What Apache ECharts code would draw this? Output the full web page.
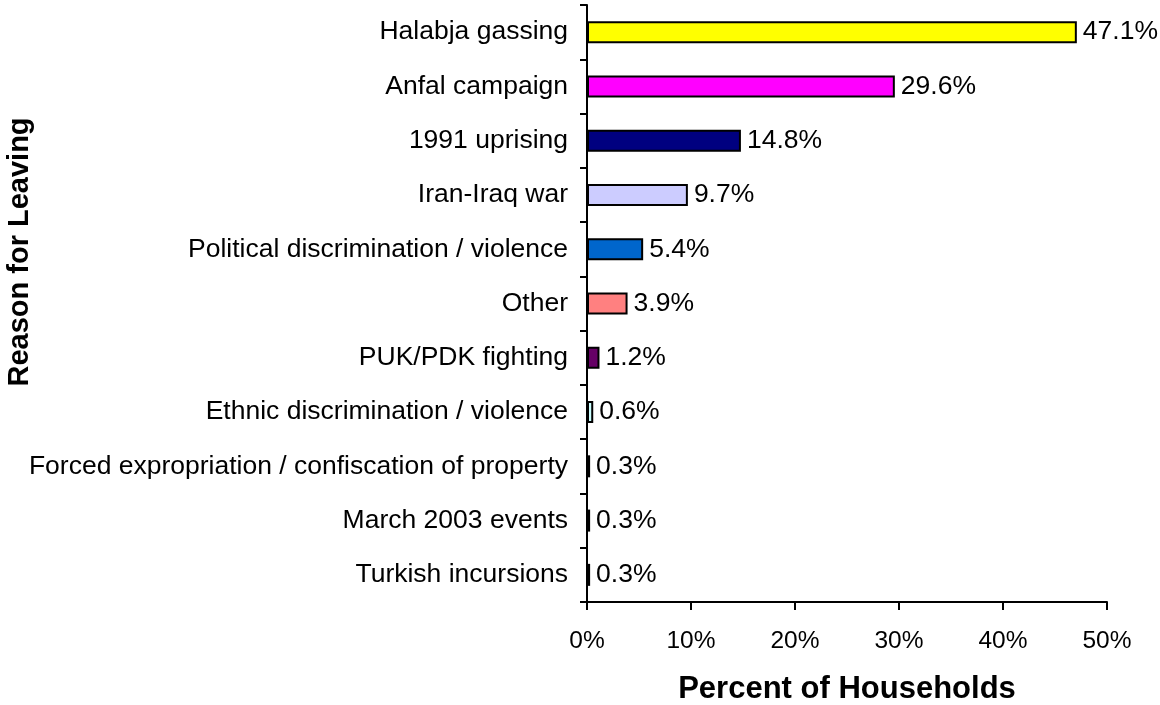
<!DOCTYPE html>
<html>
<head>
<meta charset="utf-8">
<script src="https://cdn.jsdelivr.net/npm/echarts@6/dist/echarts.min.js"></script>
<style>
    html, body { margin: 0; padding: 0; background: #fff; }
    #chart { width: 1160px; height: 705px; }
</style>
</head>
<body>
<div id="chart"></div>
<script>
var reasons = ['Halabja gassing', 'Anfal campaign', '1991 uprising', 'Iran-Iraq war',
    'Political discrimination / violence', 'Other', 'PUK/PDK fighting',
    'Ethnic discrimination / violence', 'Forced expropriation / confiscation of property',
    'March 2003 events', 'Turkish incursions'];
var percents = [47.1, 29.6, 14.8, 9.7, 5.4, 3.9, 1.2, 0.6, 0.3, 0.3, 0.3];
var barColors = ['#FFFF00', '#FF00FF', '#000080', '#CCCCFF', '#0066CC', '#FF8080',
    '#660066', '#CCFFFF', '#FFFFCC', '#993366', '#9999FF'];

var myChart = echarts.init(document.getElementById('chart'));
var font = 'Liberation Sans, Arial, sans-serif';

var option = {
    animation: false,
    textStyle: { fontFamily: font },
    grid: { left: 587, right: 53, top: 5, bottom: 103, outerBoundsMode: 'none', containLabel: false },
    xAxis: {
        type: 'value',
        min: 0,
        max: 50,
        interval: 10,
        name: 'Percent of Households',
        nameLocation: 'middle',
        nameGap: 72,
        nameTextStyle: { fontSize: 31, fontWeight: 'bold', color: '#000', fontFamily: font },
        axisLine: { show: true, lineStyle: { color: '#000', width: 2 } },
        axisTick: { show: true, length: 8, lineStyle: { color: '#000', width: 2 } },
        axisLabel: { formatter: '{value}%', fontSize: 24.5, color: '#000', margin: 27, fontFamily: font },
        splitLine: { show: false }
    },
    yAxis: {
        type: 'category',
        inverse: true,
        data: reasons,
        axisLine: { show: true, lineStyle: { color: '#000', width: 2 } },
        axisTick: { show: true, length: 7, lineStyle: { color: '#000', width: 2 } },
        axisLabel: { fontSize: 26.5, color: '#000', margin: 19, fontFamily: font }
    },
    graphic: [{
        type: 'text',
        x: 20,
        y: 252,
        rotation: Math.PI / 2,
        style: {
            text: 'Reason for Leaving',
            font: 'bold 29px ' + font,
            fill: '#000',
            textAlign: 'center',
            textVerticalAlign: 'middle'
        }
    }],
    series: [{
        type: 'bar',
        barWidth: 22,
        data: percents.map(function (v, i) {
            return { value: v, itemStyle: { color: barColors[i] } };
        }),
        itemStyle: { borderColor: '#000', borderWidth: 2 },
        label: {
            show: true,
            position: 'right',
            distance: 6,
            fontSize: 26.5,
            color: '#000',
            fontFamily: font,
            formatter: function (p) { return p.value.toFixed(1) + '%'; }
        }
    }]
};

myChart.setOption(option);
</script>
</body>
</html>
